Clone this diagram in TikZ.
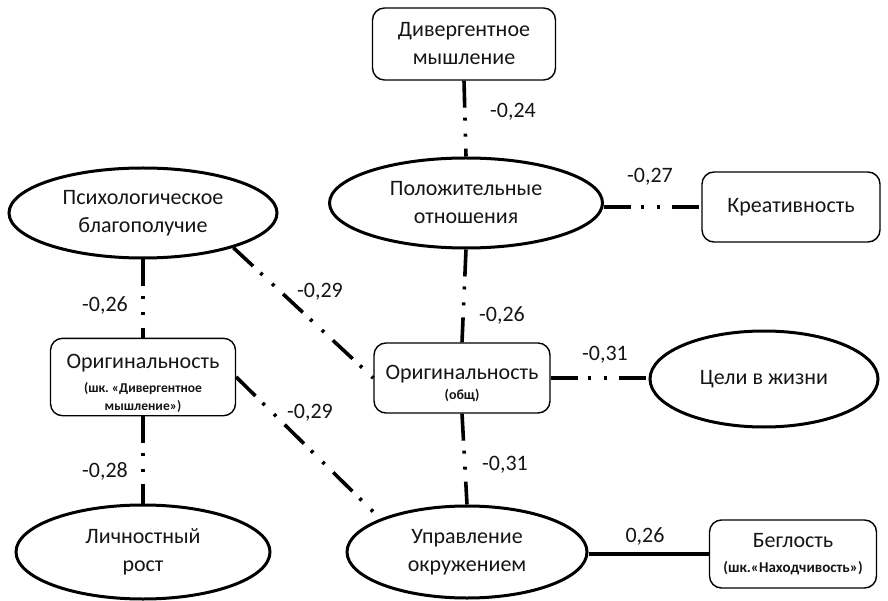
\documentclass[tikz,border=0pt]{standalone}
\usepackage{fontspec}
\setmainfont{Carlito}
\usetikzlibrary{shapes.geometric,calc}
\definecolor{txt}{HTML}{151515}
\frenchspacing
\newcommand{\mainsz}{\fontsize{22}{28}\selectfont}
\newcommand{\smallsz}{\fontsize{13.5}{18}\selectfont\bfseries}
\newcommand{\subtext}[2]{{#1\begin{tabular}[t]{@{}c@{}}#2\end{tabular}}}
\begin{document}
\begin{tikzpicture}[x=1pt,y=-1pt,
  ell/.style={ellipse, draw=black, line width=3pt, inner sep=0pt, align=center, font=\mainsz, text=txt},
  rbox/.style={rectangle, rounded corners=12pt, draw=black, line width=1.4pt, inner sep=0pt, align=center, font=\mainsz, text=txt},
  conn/.style={line width=3.6pt, draw=black, dash pattern=on 27pt off 10pt on 3pt off 13pt on 3pt off 12pt},
  solidconn/.style={line width=3.6pt, draw=black},
  lab/.style={font=\mainsz, text=txt, inner sep=0pt}
]
\useasboundingbox (0,0) rectangle (888,601);

% nodes
\node[rbox, minimum width=183pt, minimum height=72pt] (div) at (464,44) {Дивергентное\\мышление};
\node[ell, minimum width=273pt, minimum height=90pt] (pol) at (466,203) {Положительные\\отношения};
\node[rbox, minimum width=178pt, minimum height=70pt] (kre) at (791,207) {Креативность};
\node[ell, minimum width=268pt, minimum height=90pt] (psy) at (143,213) {Психологическое\\благополучие};
\node[rbox, minimum width=185pt, minimum height=70pt] (osh) at (143,377) {\rule{0pt}{30pt}Оригинальность\\[-4pt]\subtext{\smallsz}{(шк. «Дивергентное\\мышление»)}};
\node[rbox, minimum width=176pt, minimum height=70pt] (oob) at (462,378) {\rule{0pt}{26pt}Оригинальность\\[-8pt]{\fontsize{14}{16}\selectfont\bfseries (общ)}};
\node[ell, minimum width=228pt, minimum height=96pt] (tse) at (764,379) {Цели в жизни};
\node[ell, minimum width=254pt, minimum height=94pt] (lic) at (143,552) {Личностный\\рост};
\node[ell, minimum width=240pt, minimum height=92pt] (upr) at (467,552) {Управление\\окружением};
\node[rbox, minimum width=167pt, minimum height=68pt] (beg) at (793,554) {Беглость\\[-3pt]{\fontsize{15}{18}\selectfont\bfseries (шк.«Находчивость»)}};

% connectors
\draw[conn] (div.south) -- (pol.north);
\draw[conn] (pol.east |- kre.west) -- (kre.west);
\draw[conn] (psy.south) -- (osh.north);
\draw[conn] (psy.-21) -- (oob.west);
\draw[conn] (pol.south) -- (oob.north);
\draw[conn] (oob.east) -- (tse.west |- oob.east);
\draw[conn] (osh.east) -- (upr.159);
\draw[conn] (osh.south) -- (lic.north);
\draw[conn] (oob.south) -- (upr.north);
\draw[solidconn] (upr.east |- beg.west) -- (beg.west);

% labels
\node[lab] (l1) at (513,112) {-0,24};
\node[lab] (l2) at (650,177) {-0,27};
\node[lab] (l3) at (105,305) {-0,26};
\node[lab] (l4) at (320,292) {-0,29};
\node[lab] (l5) at (502,315) {-0,26};
\node[lab] (l6) at (605,355) {-0,31};
\node[lab] (l7) at (310,413) {-0,29};
\node[lab] (l8) at (105,471) {-0,28};
\node[lab] (l9) at (505,465) {-0,31};
\node[lab] (l10) at (645,536) {0,26};
\end{tikzpicture}
\end{document}
